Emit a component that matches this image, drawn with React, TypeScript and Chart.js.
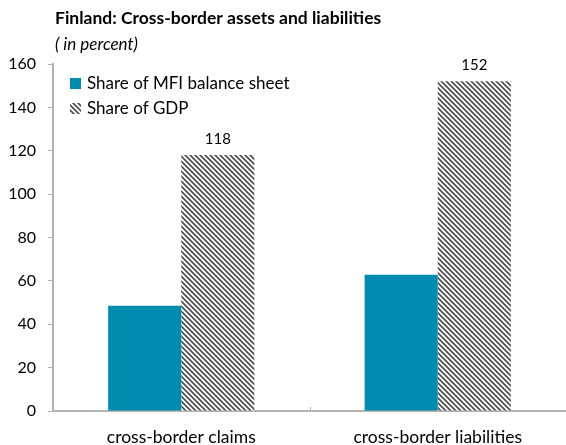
import React, { useEffect, useRef } from "react";
import { Chart, registerables } from "chart.js";

Chart.register(...registerables);

const categories = ["cross-border claims", "cross-border liabilities"];
const mfiShare = [48.5, 62.8];
const gdpShare = [118, 152];
const gdpLabels = ["118", "152"];
const seriesNames = ["Share of MFI balance sheet", "Share of GDP"];
const titleText = "Finland: Cross-border assets and liabilities";
const subtitleText = "( in percent)";

const FONT = "Lato, 'Open Sans', sans-serif";
const TEAL = "#008caf";
const AXIS = "#b3b3b3";

function makeHatch(): CanvasPattern | string {
  const c = document.createElement("canvas");
  const s = 5;
  c.width = s;
  c.height = s;
  const g = c.getContext("2d");
  if (!g) return "#888";
  g.fillStyle = "#ffffff";
  g.fillRect(0, 0, s, s);
  g.strokeStyle = "#505050";
  g.lineWidth = 1.7;
  g.beginPath();
  g.moveTo(-1, -1);
  g.lineTo(s + 1, s + 1);
  g.moveTo(-1, s - 1);
  g.lineTo(1, s + 1);
  g.moveTo(s - 1, -1);
  g.lineTo(s + 1, 1);
  g.stroke();
  const p = g.createPattern(c, "repeat");
  return p || "#888";
}

export default function App() {
  const ref = useRef<HTMLCanvasElement | null>(null);
  useEffect(() => {
    if (!ref.current) return;
    const hatch = makeHatch();
    const overlay = {
      id: "overlay",
      afterDraw(chart: any) {
        const ctx = chart.ctx;
        const area = chart.chartArea;
        ctx.save();
        ctx.fillStyle = "#000";
        ctx.textBaseline = "alphabetic";
        ctx.textAlign = "left";
        ctx.font = `bold 17.5px ${FONT}`;
        ctx.fillText(titleText, 55, 24);
        ctx.font = `italic 17px ${FONT}`;
        ctx.fillText(subtitleText, 55, 50);
        ctx.font = `17px ${FONT}`;
        ctx.textBaseline = "middle";
        ctx.fillStyle = TEAL;
        ctx.fillRect(70, 78, 11, 11);
        ctx.fillStyle = hatch as any;
        ctx.fillRect(70, 103, 11, 11);
        ctx.fillStyle = "#000";
        ctx.fillText(seriesNames[0], 87, 84);
        ctx.fillText(seriesNames[1], 87, 109);
        const xs = chart.scales.x;
        ctx.strokeStyle = AXIS;
        ctx.lineWidth = 1;
        for (let i = 1; i < categories.length; i++) {
          const x = Math.round((xs.getPixelForTick(i - 1) + xs.getPixelForTick(i)) / 2) + 0.5;
          ctx.beginPath();
          ctx.moveTo(x, area.bottom);
          ctx.lineTo(x, area.bottom - 4);
          ctx.stroke();
        }
        const meta = chart.getDatasetMeta(1);
        ctx.fillStyle = "#000";
        ctx.font = `15px ${FONT}`;
        ctx.textAlign = "center";
        ctx.textBaseline = "alphabetic";
        meta.data.forEach((el: any, i: number) => {
          ctx.fillText(gdpLabels[i], el.x, el.y - 11);
        });
        ctx.restore();
      },
    };
    const chart = new Chart(ref.current, {
      type: "bar",
      data: {
        labels: categories,
        datasets: [
          {
            label: seriesNames[0],
            data: mfiShare,
            backgroundColor: TEAL,
            borderWidth: 0,
          },
          {
            label: seriesNames[1],
            data: gdpShare,
            backgroundColor: hatch as any,
            borderWidth: 0,
          },
        ],
      },
      options: {
        responsive: false,
        animation: false,
        layout: { padding: { top: 64, right: 0, left: 0, bottom: 0 } },
        datasets: {
          bar: { categoryPercentage: 0.57, barPercentage: 1 },
        },
        plugins: {
          legend: { display: false },
          title: { display: false },
          tooltip: { enabled: false },
        },
        scales: {
          x: {
            grid: { display: false, drawTicks: false },
            border: { display: true, color: AXIS, width: 2 },
            ticks: {
              color: "#000",
              font: { family: FONT, size: 17.5 },
              padding: 16,
            },
            afterFit: (s: any) => {
              s.height = 34;
            },
          },
          y: {
            min: 0,
            max: 160,
            ticks: {
              stepSize: 20,
              color: "#000",
              font: { family: FONT, size: 16 },
              padding: 12,
            },
            grid: {
              display: true,
              drawOnChartArea: false,
              drawTicks: true,
              tickLength: 5,
              color: AXIS,
            },
            border: { display: true, color: AXIS, width: 2 },
            afterFit: (s: any) => {
              s.width = 53;
            },
          },
        },
      },
      plugins: [overlay],
    });
    return () => chart.destroy();
  }, []);
  return (
    <div style={{ position: "fixed", left: 0, top: 0, width: 566, height: 445, background: "#fff" }}>
      <canvas ref={ref} width={566} height={445} style={{ width: 566, height: 445, display: "block" }} />
    </div>
  );
}
